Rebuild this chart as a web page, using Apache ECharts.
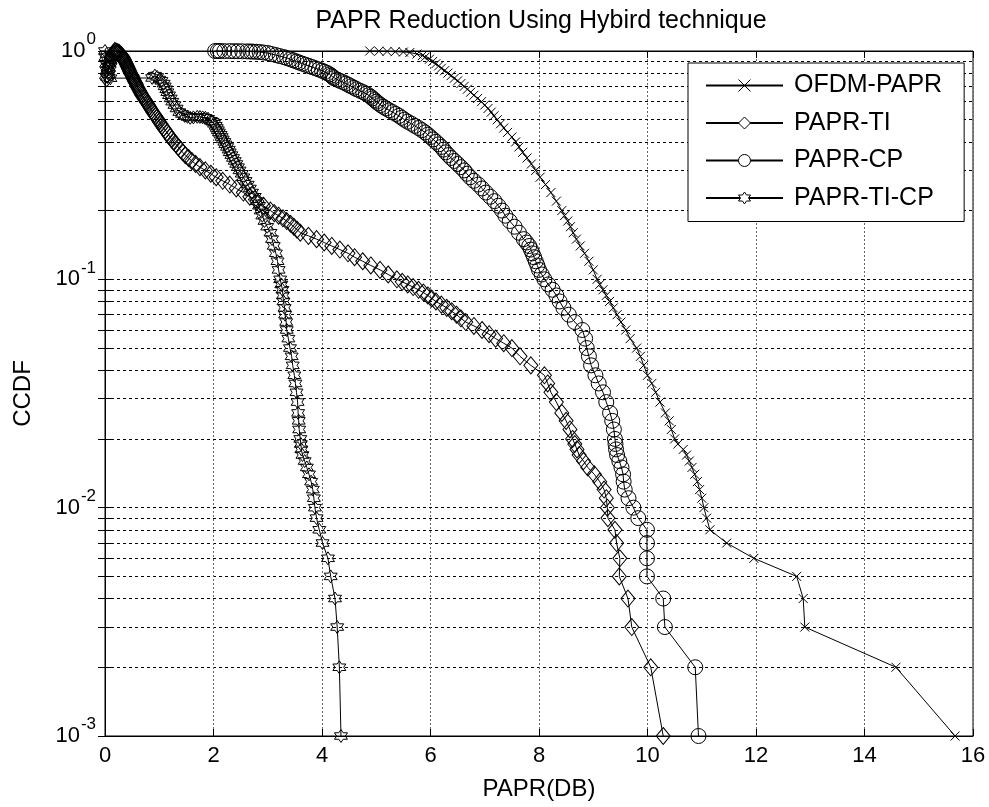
<!DOCTYPE html>
<html>
<head>
<meta charset="utf-8">
<title>PAPR Reduction Using Hybird technique</title>
<script src="https://cdn.jsdelivr.net/npm/echarts@6/dist/echarts.min.js"></script>
<style>
  html, body { margin: 0; padding: 0; background: #fff; }
  #main { width: 989px; height: 807px; }
</style>
</head>
<body>
<div id="main"></div>
<script>
// axis ticks
var xTicks = [0, 2, 4, 6, 8, 10, 12, 14, 16];
var yDecades = [0.001, 0.01, 0.1, 1];
var yMinor = [0.002, 0.003, 0.004, 0.005, 0.006, 0.007, 0.008, 0.009,
  0.02, 0.03, 0.04, 0.05, 0.06, 0.07, 0.08, 0.09,
  0.2, 0.3, 0.4, 0.5, 0.6, 0.7, 0.8, 0.9];

var seriesNames = ['OFDM-PAPR', 'PAPR-TI', 'PAPR-CP', 'PAPR-TI-CP'];

// [PAPR dB, CCDF]
var ofdmPapr = [[4.88,1.0],[5.05,0.998],[5.2,0.996],[5.35,0.993],[5.5,0.99],[5.62,0.985],[5.75,0.97],[5.85,0.955],
  [5.9,0.94],[5.98,0.92],[6.04,0.9],[6.1,0.88],[6.15,0.86],[6.2,0.84],[6.26,0.82],[6.32,0.8],[6.38,0.78],[6.44,0.76],
  [6.5,0.74],[6.56,0.72],[6.62,0.7],[6.68,0.68],[6.74,0.66],[6.8,0.64],[6.87,0.62],[6.94,0.6],[7.0,0.58],[7.06,0.56],
  [7.12,0.54],[7.17,0.52],[7.23,0.5],[7.29,0.48],[7.35,0.46],[7.42,0.44],[7.5,0.42],[7.57,0.4],[7.63,0.38],[7.7,0.36],
  [7.78,0.34],[7.86,0.32],[7.94,0.3],[8.02,0.28],[8.12,0.26],[8.22,0.24],[8.32,0.22],[8.42,0.2],[8.47,0.19],[8.53,0.18],
  [8.58,0.17],[8.63,0.16],[8.69,0.15],[8.76,0.14],[8.84,0.13],[8.92,0.12],[9.0,0.11],[9.07,0.1],[9.12,0.095],[9.18,0.09],
  [9.24,0.085],[9.3,0.08],[9.37,0.075],[9.44,0.07],[9.51,0.065],[9.6,0.06],[9.68,0.055],[9.8,0.05],[9.87,0.046],
  [9.93,0.042],[10.0,0.038],[10.08,0.035],[10.15,0.032],[10.23,0.029],[10.33,0.026],[10.4,0.024],[10.44,0.022],
  [10.5,0.02],[10.56,0.019],[10.66,0.018],[10.72,0.017],[10.77,0.016],[10.82,0.015],[10.87,0.014],[10.92,0.013],
  [10.96,0.012],[11.0,0.011],[11.04,0.01],[11.09,0.009],[11.15,0.008],[11.46,0.007],[11.96,0.006],[12.75,0.005],
  [12.87,0.004],[12.9,0.003],[14.58,0.002],[15.67,0.001]];

var paprTi = [[0.03,0.76],[0.045,0.79],[0.06,0.82],[0.075,0.85],[0.09,0.88],[0.105,0.905],[0.12,0.93],[0.135,0.95],
  [0.15,0.97],[0.165,0.985],[0.18,1.0],[0.2,0.995],[0.22,0.99],[0.24,0.985],[0.26,0.98],[0.28,0.97],[0.3,0.96],
  [0.315,0.95],[0.33,0.94],[0.34,0.93],[0.35,0.92],[0.36,0.91],[0.37,0.9],[0.38,0.89],[0.39,0.88],[0.4,0.87],[0.41,0.86],
  [0.42,0.85],[0.43,0.84],[0.44,0.83],[0.45,0.82],[0.46,0.81],[0.47,0.8],[0.485,0.79],[0.5,0.78],[0.51,0.77],[0.52,0.76],
  [0.53,0.75],[0.54,0.74],[0.555,0.73],[0.57,0.72],[0.58,0.71],[0.59,0.7],[0.605,0.69],[0.62,0.68],[0.635,0.67],
  [0.65,0.66],[0.665,0.65],[0.68,0.64],[0.7,0.63],[0.72,0.62],[0.74,0.61],[0.76,0.6],[0.78,0.59],[0.8,0.58],[0.82,0.57],
  [0.84,0.56],[0.86,0.55],[0.88,0.54],[0.905,0.53],[0.93,0.52],[0.955,0.51],[0.98,0.5],[1.0,0.49],[1.03,0.48],
  [1.05,0.47],[1.08,0.46],[1.11,0.45],[1.14,0.44],[1.17,0.43],[1.2,0.42],[1.23,0.41],[1.27,0.4],[1.31,0.39],[1.35,0.38],
  [1.39,0.37],[1.43,0.36],[1.48,0.35],[1.54,0.34],[1.6,0.33],[1.67,0.32],[1.75,0.31],[1.85,0.3],[1.95,0.29],[2.05,0.28],
  [2.17,0.27],[2.3,0.26],[2.42,0.25],[2.55,0.24],[2.67,0.23],[2.8,0.22],[2.92,0.21],[3.05,0.2],[3.12,0.195],[3.2,0.19],
  [3.28,0.185],[3.35,0.18],[3.42,0.175],[3.48,0.17],[3.54,0.165],[3.6,0.16],[3.75,0.155],[3.9,0.15],[4.04,0.145],
  [4.18,0.14],[4.33,0.135],[4.48,0.13],[4.6,0.125],[4.75,0.12],[4.9,0.115],[5.07,0.11],[5.22,0.105],[5.38,0.1],
  [5.48,0.0975],[5.58,0.095],[5.68,0.0925],[5.78,0.09],[5.87,0.0875],[5.95,0.085],[6.02,0.0825],[6.1,0.08],[6.2,0.0775],
  [6.3,0.075],[6.39,0.0725],[6.48,0.07],[6.56,0.0675],[6.65,0.065],[6.8,0.0625],[6.95,0.06],[7.08,0.0575],[7.2,0.055],
  [7.35,0.0525],[7.5,0.05],[7.65,0.046],[7.85,0.042],[8.1,0.038],[8.16,0.035],[8.22,0.032],[8.32,0.029],[8.42,0.026],
  [8.5,0.024],[8.57,0.022],[8.62,0.02],[8.66,0.019],[8.7,0.018],[8.74,0.017],[8.82,0.016],[8.9,0.015],[9.02,0.014],
  [9.12,0.013],[9.2,0.012],[9.24,0.011],[9.26,0.01],[9.27,0.009],[9.4,0.008],[9.43,0.007],[9.49,0.006],[9.48,0.005],
  [9.64,0.004],[9.71,0.003],[10.06,0.002],[10.29,0.001]];

var paprCp = [[2.03,1.0],[2.08,1.0],[2.12,1.0],[2.2,0.999],[2.3,0.999],[2.38,0.998],[2.45,0.998],[2.53,0.997],
  [2.62,0.996],[2.68,0.995],[2.73,0.994],[2.79,0.992],[2.85,0.99],[2.92,0.985],[3.0,0.98],[3.07,0.97],[3.15,0.96],
  [3.22,0.95],[3.3,0.94],[3.36,0.93],[3.42,0.92],[3.47,0.91],[3.53,0.9],[3.58,0.89],[3.64,0.88],[3.7,0.87],[3.76,0.86],
  [3.82,0.85],[3.88,0.84],[3.94,0.83],[4.0,0.82],[4.05,0.81],[4.1,0.8],[4.14,0.79],[4.17,0.78],[4.2,0.77],[4.22,0.76],
  [4.28,0.75],[4.33,0.74],[4.39,0.73],[4.44,0.72],[4.49,0.71],[4.54,0.7],[4.59,0.69],[4.64,0.68],[4.7,0.67],[4.76,0.66],
  [4.81,0.65],[4.86,0.64],[4.9,0.63],[4.93,0.62],[4.97,0.61],[5.0,0.6],[5.04,0.59],[5.08,0.58],[5.13,0.57],[5.18,0.56],
  [5.24,0.55],[5.3,0.54],[5.36,0.53],[5.42,0.52],[5.47,0.51],[5.52,0.5],[5.58,0.49],[5.65,0.48],[5.71,0.47],[5.78,0.46],
  [5.84,0.45],[5.9,0.44],[5.95,0.43],[6.0,0.42],[6.05,0.41],[6.1,0.4],[6.15,0.39],[6.2,0.38],[6.24,0.37],[6.28,0.36],
  [6.33,0.35],[6.38,0.34],[6.44,0.33],[6.5,0.32],[6.56,0.31],[6.62,0.3],[6.67,0.29],[6.73,0.28],[6.8,0.27],[6.88,0.26],
  [6.95,0.25],[7.02,0.24],[7.1,0.23],[7.18,0.22],[7.25,0.21],[7.32,0.2],[7.38,0.19],[7.46,0.18],[7.55,0.17],[7.63,0.16],
  [7.72,0.15],[7.77,0.145],[7.82,0.14],[7.85,0.135],[7.88,0.13],[7.91,0.125],[7.94,0.12],[7.97,0.115],[8.0,0.11],
  [8.05,0.105],[8.1,0.1],[8.17,0.095],[8.25,0.09],[8.32,0.085],[8.38,0.08],[8.45,0.075],[8.55,0.07],[8.66,0.065],
  [8.8,0.06],[8.85,0.055],[8.88,0.05],[8.92,0.046],[8.96,0.042],[9.04,0.038],[9.1,0.035],[9.18,0.032],[9.24,0.029],
  [9.31,0.026],[9.35,0.024],[9.38,0.022],[9.4,0.02],[9.41,0.019],[9.42,0.018],[9.44,0.017],[9.48,0.016],[9.52,0.015],
  [9.55,0.014],[9.56,0.013],[9.58,0.012],[9.65,0.011],[9.74,0.01],[9.83,0.009],[9.99,0.008],[9.99,0.007],[9.99,0.006],
  [9.99,0.005],[10.29,0.004],[10.32,0.003],[10.88,0.002],[10.94,0.001]];

var paprTiCp = [[0.0,1.0],[0.03,0.97],[0.01,0.94],[0.05,0.91],[0.02,0.88],[0.06,0.85],[0.03,0.82],[0.07,0.79],[0.04,0.77],
  [0.1,0.76],[0.87,0.762],[0.92,0.78],[0.96,0.77],[1.0,0.75],[1.04,0.74],[1.08,0.72],[1.1,0.7],[1.13,0.68],[1.15,0.66],
  [1.18,0.64],[1.21,0.62],[1.24,0.6],[1.28,0.58],[1.32,0.56],[1.37,0.54],[1.42,0.53],[1.47,0.52],[1.52,0.515],[1.57,0.51],
  [1.63,0.512],[1.7,0.515],[1.75,0.514],[1.8,0.512],[1.85,0.51],[1.9,0.505],[1.95,0.495],[1.98,0.49],[2.01,0.48],
  [2.04,0.47],[2.06,0.46],[2.08,0.45],[2.1,0.44],[2.13,0.43],[2.15,0.42],[2.17,0.41],[2.2,0.4],[2.22,0.39],[2.25,0.38],
  [2.28,0.37],[2.3,0.36],[2.33,0.35],[2.36,0.34],[2.39,0.33],[2.42,0.32],[2.45,0.31],[2.48,0.3],[2.52,0.29],[2.55,0.28],
  [2.59,0.27],[2.63,0.26],[2.67,0.25],[2.71,0.24],[2.76,0.23],[2.8,0.22],[2.84,0.21],[2.87,0.2],[2.9,0.19],[2.94,0.18],
  [2.99,0.17],[3.05,0.16],[3.08,0.15],[3.11,0.14],[3.15,0.13],[3.18,0.12],[3.2,0.11],[3.23,0.1],[3.25,0.095],[3.27,0.09],
  [3.28,0.085],[3.29,0.08],[3.31,0.075],[3.32,0.07],[3.34,0.065],[3.35,0.06],[3.38,0.055],[3.41,0.05],[3.44,0.046],
  [3.46,0.042],[3.49,0.038],[3.51,0.035],[3.53,0.032],[3.55,0.029],[3.56,0.026],[3.57,0.024],[3.58,0.022],[3.6,0.02],
  [3.61,0.019],[3.62,0.018],[3.64,0.017],[3.68,0.016],[3.72,0.015],[3.76,0.014],[3.8,0.013],[3.83,0.012],[3.85,0.011],
  [3.87,0.01],[3.9,0.009],[3.95,0.008],[4.01,0.007],[4.11,0.006],[4.16,0.005],[4.24,0.004],[4.28,0.003],[4.32,0.002],
  [4.35,0.001]];

var FONT = '"Liberation Sans", Arial, Helvetica, sans-serif';
var crossMark = 'path://M0,0L10,10M10,0L0,10';
var hexagram = 'path://M50,0L64.43,25L93.3,25L78.87,50L93.3,75L64.43,75L50,100L35.57,75L6.7,75L21.13,50L6.7,25L35.57,25Z';

var chart = echarts.init(document.getElementById('main'), null, { renderer: 'canvas' });

function curve(name, data, symbol, size) {
  return {
    name: name,
    type: 'line',
    data: data,
    symbol: symbol,
    symbolSize: size,
    showSymbol: true,
    clip: false,
    z: 3,
    lineStyle: { color: '#000', width: 1 },
    itemStyle: { color: 'rgba(0,0,0,0)', borderColor: '#000', borderWidth: 1 },
    emphasis: { disabled: true }
  };
}

var yTickValues = yDecades.concat(yMinor).sort(function (a, b) { return a - b; });

var option = {
  backgroundColor: '#fff',
  animation: false,
  textStyle: { fontFamily: FONT, color: '#000' },
  title: {
    text: 'PAPR Reduction Using Hybird technique',
    left: 536,
    top: 4,
    textAlign: 'center',
    textStyle: { fontFamily: FONT, fontSize: 25, fontWeight: 'normal', color: '#000' }
  },
  grid: { left: 105, right: 16, top: 51, bottom: 71, show: true, borderColor: '#000', borderWidth: 1 },
  legend: {
    data: seriesNames,
    orient: 'vertical',
    left: 688,
    top: 63,
    itemWidth: 77,
    itemHeight: 15,
    itemGap: 12.5,
    padding: [10, 22, 11, 17],
    borderColor: '#000',
    borderWidth: 1,
    backgroundColor: '#fff',
    selectedMode: false,
    z: 10,
    itemStyle: { color: '#fff', borderColor: '#000', borderWidth: 1 },
    textStyle: { fontFamily: FONT, fontSize: 25, color: '#000', padding: [0, 0, 0, 6] }
  },
  xAxis: [{
    type: 'value',
    min: 0,
    max: 16,
    interval: 2,
    name: 'PAPR(DB)',
    nameLocation: 'middle',
    nameGap: 41,
    nameTextStyle: { fontFamily: FONT, fontSize: 24, color: '#000' },
    axisLine: { show: true, lineStyle: { color: '#000', width: 1 } },
    axisTick: { show: true, inside: true, length: 7, lineStyle: { color: '#000' } },
    axisLabel: { fontFamily: FONT, fontSize: 22, color: '#000', margin: 9,
      customValues: xTicks },
    splitLine: { show: true, lineStyle: { color: '#666', type: [2, 2], width: 1 } }
  }, {
    type: 'value',
    position: 'top',
    min: 0,
    max: 16,
    interval: 2,
    axisLine: { show: true, lineStyle: { color: '#000', width: 1 } },
    axisTick: { show: true, inside: true, length: 7, lineStyle: { color: '#000' } },
    axisLabel: { show: false },
    splitLine: { show: false }
  }],
  yAxis: [{
    type: 'log',
    logBase: 10,
    min: 0.001,
    max: 1,
    name: 'CCDF',
    nameLocation: 'middle',
    nameRotate: 90,
    nameGap: 70,
    nameTextStyle: { fontFamily: FONT, fontSize: 24, color: '#000' },
    axisLine: { show: true, lineStyle: { color: '#000', width: 1 } },
    axisTick: { show: true, inside: true, length: 7, lineStyle: { color: '#000' }, customValues: yTickValues },
    axisLabel: {
      margin: 9,
      customValues: yDecades,
      formatter: function (v) {
        var e = Math.round(Math.log(v) / Math.LN10);
        return '{b|10}{s|' + e + '}';
      },
      rich: {
        b: { fontFamily: FONT, fontSize: 22, color: '#000', lineHeight: 40 },
        s: { fontFamily: FONT, fontSize: 17, color: '#000', lineHeight: 40, verticalAlign: 'top', padding: [0, 0, 0, 1] }
      }
    },
    splitLine: { show: true, lineStyle: { color: '#000', type: [3, 3], width: 1 } }
  }, {
    type: 'log',
    logBase: 10,
    min: 0.001,
    max: 1,
    position: 'right',
    axisLine: { show: true, lineStyle: { color: '#000', width: 1 } },
    axisTick: { show: true, inside: true, length: 7, lineStyle: { color: '#000' }, customValues: yTickValues },
    axisLabel: { show: false },
    splitLine: { show: false }
  }],
  series: [
    {
      name: 'minor-grid',
      type: 'line',
      data: [],
      z: 1,
      silent: true,
      markLine: {
        silent: true,
        symbol: ['none', 'none'],
        label: { show: false },
        lineStyle: { color: '#000', type: [3, 3], width: 1 },
        emphasis: { disabled: true },
        data: yMinor.map(function (v) { return { yAxis: v }; })
      }
    },
    curve(seriesNames[0], ofdmPapr, crossMark, 9),
    curve(seriesNames[1], paprTi, 'diamond', [14, 17]),
    curve(seriesNames[2], paprCp, 'circle', 15),
    curve(seriesNames[3], paprTiCp, hexagram, 13)
  ]
};

chart.setOption(option);
</script>
</body>
</html>
